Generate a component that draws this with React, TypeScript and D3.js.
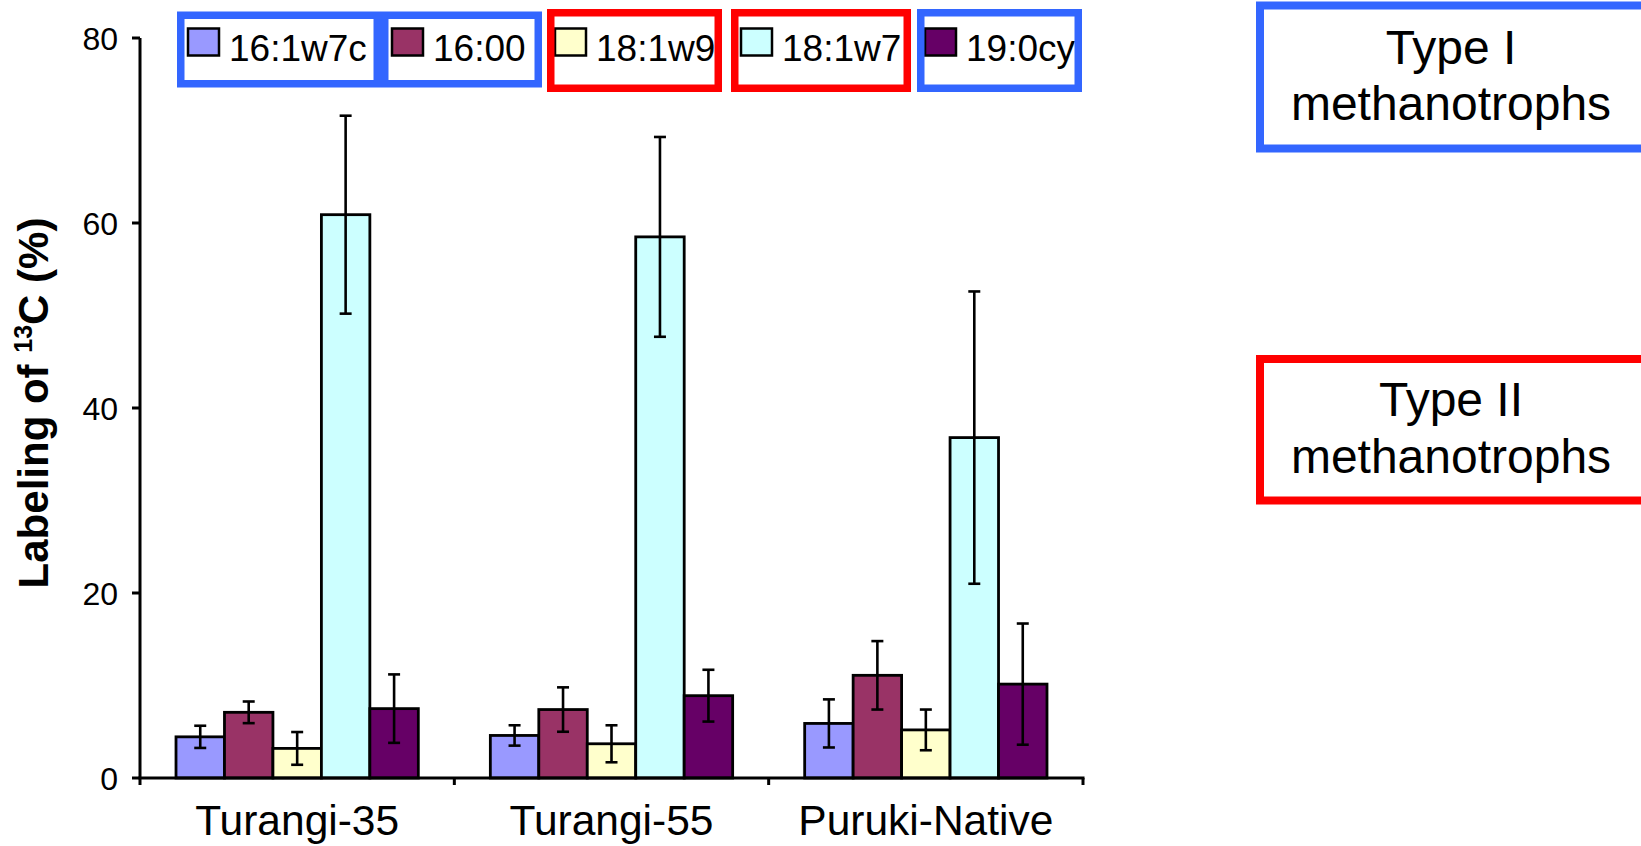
import * as d3 from "d3";

// chart data
const categories = ["Turangi-35", "Turangi-55", "Puruki-Native"];
const seriesNames = ["16:1w7c", "16:00", "18:1w9", "18:1w7", "19:0cy"];
const seriesColors = ["#9999FF", "#993366", "#FFFFCC", "#CCFFFF", "#660066"];
const v16_1w7c = [4.45, 4.6, 5.9];
const v16_00 = [7.1, 7.4, 11.1];
const v18_1w9 = [3.2, 3.7, 5.2];
const v18_1w7 = [60.9, 58.5, 36.8];
const v19_0cy = [7.5, 8.9, 10.15];
const e16_1w7c = [1.2, 1.1, 2.6];
const e16_00 = [1.17, 2.4, 3.7];
const e18_1w9 = [1.77, 2.0, 2.2];
const e18_1w7 = [10.7, 10.8, 15.8];
const e19_0cy = [3.7, 2.8, 6.55];
const yTicks = [0, 20, 40, 60, 80];

const values = [v16_1w7c, v16_00, v18_1w9, v18_1w7, v19_0cy];
const errors = [e16_1w7c, e16_00, e18_1w9, e18_1w7, e19_0cy];

const FONT = "'Liberation Sans', Arial, sans-serif";
const BLUE = "#3366FF";
const RED = "#FF0000";

// legend layout (swatch left edges) and the hand-drawn group boxes around it
const legendX = [188, 392, 555, 741, 925];
const legendBoxes = [
  { x0: 177, x1: 381, y0: 11.5, y1: 87.5, color: BLUE },
  { x0: 381, x1: 542, y0: 11.5, y1: 87.5, color: BLUE },
  { x0: 547, x1: 722, y0: 9, y1: 92, color: RED },
  { x0: 731, x1: 911, y0: 9, y1: 92, color: RED },
  { x0: 917, x1: 1082, y0: 9, y1: 92, color: BLUE },
];

export default function App() {
  const width = 1641;
  const height = 846;
  const left = 140;
  const right = 1083;
  const top = 38;
  const bottom = 778;

  const x0 = d3.scaleBand().domain(categories).range([left, right]).padding(0);
  const x1 = d3
    .scaleBand()
    .domain(seriesNames)
    .range([0, x0.bandwidth()])
    .paddingInner(0)
    .paddingOuter(0.743);
  const y = d3.scaleLinear().domain([0, 80]).range([bottom, top]);

  const bw = x1.bandwidth();
  const cap = 6;

  return (
    <svg
      width={width}
      height={height}
      style={{ position: "absolute", left: 0, top: 0, background: "#fff" }}
      fontFamily={FONT}
    >
      <rect width={width} height={height} fill="#fff" />

      {/* bars and error bars */}
      {categories.map((c, ci) => (
        <g key={c} transform={`translate(${x0(c)},0)`}>
          {seriesNames.map((s, si) => {
            const v = values[si][ci];
            const e = errors[si][ci];
            const bx = x1(s)!;
            const cx = bx + bw / 2;
            return (
              <g key={s}>
                <rect
                  x={bx}
                  y={y(v)}
                  width={bw}
                  height={y(0) - y(v)}
                  fill={seriesColors[si]}
                  stroke="#000"
                  strokeWidth={2.8}
                />
                <line x1={cx} x2={cx} y1={y(v + e)} y2={y(v - e)} stroke="#000" strokeWidth={2.6} />
                <line x1={cx - cap} x2={cx + cap} y1={y(v + e)} y2={y(v + e)} stroke="#000" strokeWidth={2.6} />
                <line x1={cx - cap} x2={cx + cap} y1={y(v - e)} y2={y(v - e)} stroke="#000" strokeWidth={2.6} />
              </g>
            );
          })}
        </g>
      ))}

      {/* y axis */}
      <line x1={left} x2={left} y1={y(80)} y2={bottom + 7} stroke="#000" strokeWidth={3} />
      {yTicks.map((t) => (
        <g key={t}>
          <line x1={left - 8} x2={left} y1={y(t)} y2={y(t)} stroke="#000" strokeWidth={3} />
          <text x={118} y={y(t)} dy="0.36em" textAnchor="end" fontSize={32} fill="#000">
            {t}
          </text>
        </g>
      ))}

      {/* x axis */}
      <line x1={left - 1.5} x2={right + 1.5} y1={bottom} y2={bottom} stroke="#000" strokeWidth={3} />
      {categories.map((c) => (
        <line
          key={c}
          x1={x0(c)! + x0.bandwidth()}
          x2={x0(c)! + x0.bandwidth()}
          y1={bottom}
          y2={bottom + 7}
          stroke="#000"
          strokeWidth={3}
        />
      ))}
      {categories.map((c) => (
        <text
          key={c}
          x={x0(c)! + x0.bandwidth() / 2}
          y={835}
          textAnchor="middle"
          fontSize={42.5}
          fill="#000"
        >
          {c}
        </text>
      ))}

      {/* y title */}
      <text
        transform={`translate(48,403) rotate(-90)`}
        textAnchor="middle"
        fontSize={42}
        fontWeight="bold"
        fill="#000"
      >
        Labeling of <tspan fontSize={25} dy={-16}>13</tspan>
        <tspan dy={16}>C (%)</tspan>
      </text>

      {/* legend */}
      {seriesNames.map((s, i) => (
        <g key={s}>
          <rect
            x={legendX[i]}
            y={28.5}
            width={31}
            height={27}
            fill={seriesColors[i]}
            stroke="#000"
            strokeWidth={2.5}
          />
          <text x={legendX[i] + 41} y={61} fontSize={37} fill="#000">
            {s}
          </text>
        </g>
      ))}
      {legendBoxes.map((b, i) => (
        <rect
          key={i}
          x={b.x0 + 3.75}
          y={b.y0 + 3.75}
          width={b.x1 - b.x0 - 7.5}
          height={b.y1 - b.y0 - 7.5}
          fill="none"
          stroke={b.color}
          strokeWidth={7.5}
        />
      ))}

      {/* methanotroph type boxes */}
      <rect x={1260} y={5.5} width={420} height={143} fill="none" stroke={BLUE} strokeWidth={8} />
      <text x={1451} y={64} textAnchor="middle" fontSize={48} fill="#000">
        Type I
      </text>
      <text x={1451} y={120} textAnchor="middle" fontSize={48} fill="#000">
        methanotrophs
      </text>

      <rect x={1260} y={359} width={420} height={141.5} fill="none" stroke={RED} strokeWidth={8} />
      <text x={1451} y={416} textAnchor="middle" fontSize={48} fill="#000">
        Type II
      </text>
      <text x={1451} y={473} textAnchor="middle" fontSize={48} fill="#000">
        methanotrophs
      </text>
    </svg>
  );
}
